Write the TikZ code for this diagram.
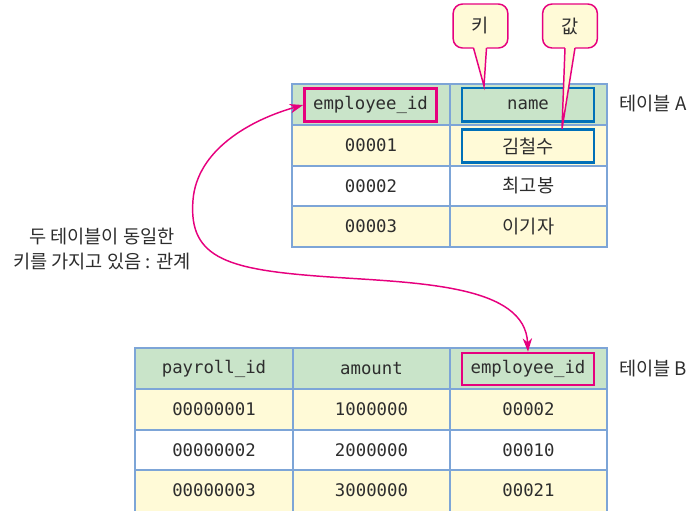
\documentclass[tikz,border=0pt]{standalone}
\usepackage{fontspec}
\setmainfont{Noto Sans CJK KR}
\setmonofont{DejaVu Sans Mono}
\usetikzlibrary{arrows.meta}

\definecolor{gridblue}{RGB}{125,165,215}
\definecolor{hdrgreen}{RGB}{201,228,201}
\definecolor{rowyellow}{RGB}{255,250,215}
\definecolor{keypink}{RGB}{230,0,126}
\definecolor{valblue}{RGB}{0,112,184}
\definecolor{textgray}{RGB}{45,45,45}

\tikzset{
	tablegrid/.style={draw=gridblue, line width=1.2pt},
	celltext/.style={font=\ttfamily\fontsize{13}{15}\selectfont, text=textgray},
	korcell/.style={font=\fontsize{14}{16}\selectfont, text=textgray},
	keybox/.style={draw=keypink, line width=2pt, minimum width=99pt, minimum height=25pt,
		font=\ttfamily\fontsize{13}{15}\selectfont, text=textgray},
	valbox/.style={draw=valblue, line width=2pt, minimum width=99pt, minimum height=25pt,
		text=textgray},
	callout/.style={draw=keypink, fill=rowyellow, line width=1.1pt, rounded corners=7pt,
		minimum width=41pt, minimum height=33pt, font=\fontsize{14}{16}\selectfont, text=textgray},
	relarrow/.style={draw=keypink, line width=1.1pt, {Stealth[length=10pt,width=7pt,inset=3pt]}-{Stealth[length=10pt,width=7pt,inset=3pt]}}
}
\tikzset{every picture/.style={line width=0.75pt}}

\begin{document}
\begin{tikzpicture}[x=0.75pt,y=0.75pt,yscale=-1,xscale=1]
	\useasboundingbox (0,0) rectangle (687,511);

	%Table A
	\fill [hdrgreen] (292,84) rectangle (607,125);
	\fill [rowyellow] (292,125) rectangle (607,166);
	\fill [rowyellow] (292,206) rectangle (607,247);
	\draw [tablegrid] (292,84) rectangle (607,247) (450,84) -- (450,247)
		(292,125) -- (607,125) (292,166) -- (607,166) (292,206) -- (607,206);
	%Table B
	\fill [hdrgreen] (135,348) rectangle (607,389);
	\fill [rowyellow] (135,389) rectangle (607,430);
	\fill [rowyellow] (135,470) rectangle (607,512);
	\draw [tablegrid] (135,348) rectangle (607,512) (293,348) -- (293,512) (450,348) -- (450,512)
		(135,389) -- (607,389) (135,430) -- (607,430) (135,470) -- (607,470);

	%Key and value boxes
	\node [keybox] (keyA) at (370.5,105) {employee\_id};
	\node [valbox, font=\ttfamily\fontsize{13}{15}\selectfont] (nameA) at (528,104.5) {name};
	\node [valbox, font=\fontsize{14}{16}\selectfont] (valA) at (528,146) {김철수};
	\node [keybox, minimum height=24pt] (keyB) at (528,369) {employee\_id};

	% Text Node
	\node [celltext] (a21) at (371,145.5) {00001};
	\node [celltext] (a31) at (371,186) {00002};
	\node [korcell] (a32) at (528.5,186) {최고봉};
	\node [celltext] (a41) at (371,226.5) {00003};
	\node [korcell] (a42) at (528.5,226.5) {이기자};

	\node [celltext] (b11) at (214,368.5) {payroll\_id};
	\node [celltext] (b12) at (371.5,368.5) {amount};
	\node [celltext] (b21) at (214,409.5) {00000001};
	\node [celltext] (b22) at (371.5,409.5) {1000000};
	\node [celltext] (b23) at (528.5,409.5) {00002};
	\node [celltext] (b31) at (214,450) {00000002};
	\node [celltext] (b32) at (371.5,450) {2000000};
	\node [celltext] (b33) at (528.5,450) {00010};
	\node [celltext] (b41) at (214,490.5) {00000003};
	\node [celltext] (b42) at (371.5,490.5) {3000000};
	\node [celltext] (b43) at (528.5,490.5) {00021};

	\node [korcell] (tableA) at (653,104) {테이블 A};
	\node [korcell] (tableB) at (653,369) {테이블 B};
	\node [korcell, align=center, font=\fontsize{14}{18.75}\selectfont] (relLabel) at (102,249.5) {두 테이블이 동일한\\키를 가지고 있음 : 관계};

	%Callouts
	\node [callout] (keyTag) at (480.5,26) {키};
	\fill [rowyellow] (473.5,46) -- (486.5,46) -- (486.5,48) -- (484,86) -- (473.5,48) -- cycle;
	\draw [keypink, line width=1.1pt] (473.5,48) -- (484,86) -- (486.5,48);
	\node [callout] (valTag) at (570,26) {값};
	\fill [rowyellow] (565,46) -- (575,46) -- (575,48) -- (562,129) -- (565,48) -- cycle;
	\draw [keypink, line width=1.1pt] (565,48) -- (562,129) -- (575,48);

	%Relation arrow
	\draw [relarrow] (keyB.north) .. controls (525,285) and (420,283) .. (330,277)
		.. controls (230,270) and (188,260) .. (193,200)
		.. controls (197,150) and (250,120) .. (keyA.west);
\end{tikzpicture}
\end{document}
